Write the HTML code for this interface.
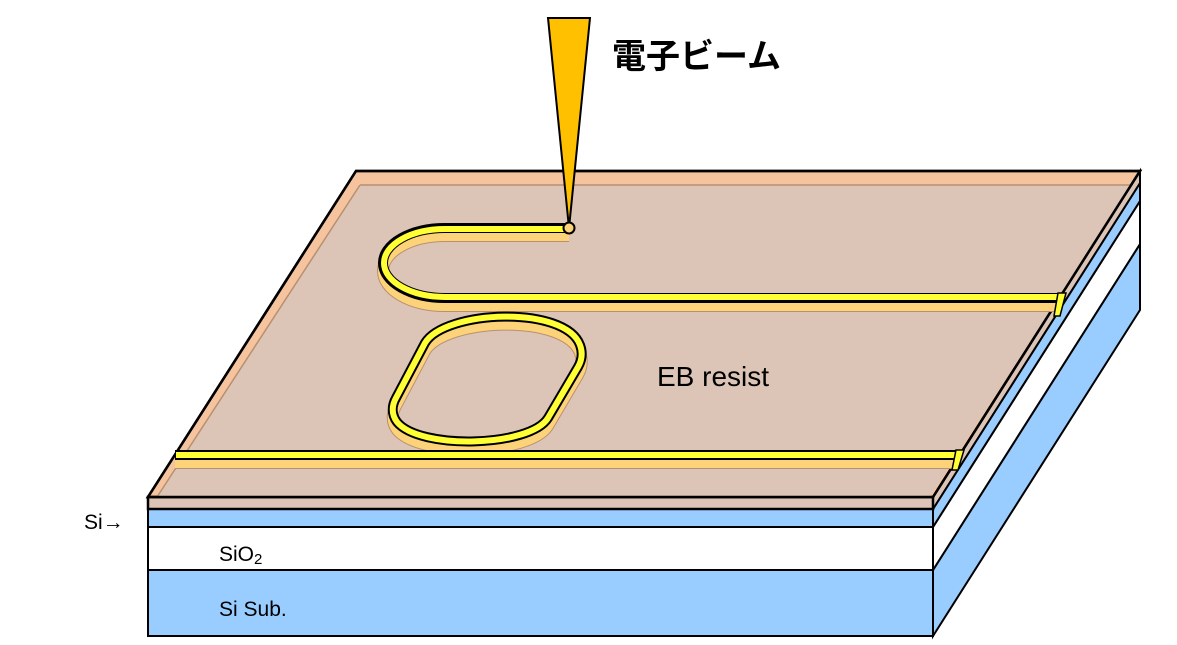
<!DOCTYPE html>
<html><head><meta charset="utf-8"><style>
html,body{margin:0;padding:0;background:#fff;}
svg{display:block;}
text{font-family:"Liberation Sans","Noto Sans CJK JP",sans-serif;}
</style></head><body>
<svg width="1177" height="645" viewBox="0 0 1177 645" xmlns="http://www.w3.org/2000/svg">
<polygon points="933,570 1140,244 1140,310 933,636" fill="#99ccff" stroke="#000" stroke-width="2"/>
<polygon points="933,527 1140,201 1140,244 933,570" fill="#fff" stroke="#000" stroke-width="2"/>
<polygon points="933,509 1140,183 1140,201 933,527" fill="#99ccff" stroke="#000" stroke-width="2"/>
<polygon points="933,497 1140,171 1140,183 933,509" fill="#dcc5b6" stroke="#000" stroke-width="2"/>
<rect x="148" y="570" width="785" height="66" fill="#99ccff" stroke="#000" stroke-width="2"/>
<rect x="148" y="527" width="785" height="43" fill="#fff" stroke="#000" stroke-width="2"/>
<rect x="148" y="509" width="785" height="18" fill="#99ccff" stroke="#000" stroke-width="2"/>
<rect x="148" y="497" width="785" height="12" fill="#dcc5b6" stroke="#000" stroke-width="2.5"/>
<polygon points="356,171 1140,171 933,497 148,497" fill="#f5c39e" stroke="#000" stroke-width="2.5"/>
<polygon points="360,185 1131,185 930,497 157,497" fill="#dcc5b6"/>
<line x1="360" y1="185" x2="1131" y2="185" stroke="#b89070" stroke-width="1.5"/>
<line x1="360" y1="185" x2="157" y2="497" stroke="#b89070" stroke-width="1.5"/>
<polygon points="356,171 1140,171 933,497 148,497" fill="none" stroke="#000" stroke-width="2.5"/>
<g fill="none" stroke="#b89070" stroke-width="12">
<path d="M569,236 L445,236 A62,35 0 0 0 445,306 L1058,306"/>
<line x1="175" y1="463" x2="958" y2="463"/>
<path transform="translate(0,8)" d="M396,398 L425,343 C445,310 565,305 580,345 C583,353 582,360 578,367 L548,418 C530,447 420,450 397,422 C391,414 392,405 396,398 Z"/>
</g>
<g fill="none" stroke="#fdd37a" stroke-width="10">
<path d="M569,236 L445,236 A62,35 0 0 0 445,306 L1058,306"/>
<line x1="175" y1="463" x2="958" y2="463"/>
<path transform="translate(0,8)" d="M396,398 L425,343 C445,310 565,305 580,345 C583,353 582,360 578,367 L548,418 C530,447 420,450 397,422 C391,414 392,405 396,398 Z"/>
</g>
<g fill="none" stroke="#000" stroke-width="10">
<path d="M569,228 L445,228 A62,35 0 0 0 445,298 L1062,298"/>
<line x1="175" y1="455" x2="960" y2="455"/>
<path d="M396,398 L425,343 C445,310 565,305 580,345 C583,353 582,360 578,367 L548,418 C530,447 420,450 397,422 C391,414 392,405 396,398 Z"/>
</g>
<g fill="none" stroke="#ffff33" stroke-width="6">
<path d="M569,229 L445,229 A61,34 0 0 0 445,297 L1060,297"/>
<line x1="176" y1="455" x2="958" y2="455"/>
<path d="M396,398 L425,343 C445,310 565,305 580,345 C583,353 582,360 578,367 L548,418 C530,447 420,450 397,422 C391,414 392,405 396,398 Z"/>
</g>
<polygon points="1058,293 1066,293 1060,316 1054,316" fill="#ffff33" stroke="#000" stroke-width="1.5"/>
<polygon points="956,450 964,450 958,470 952,470" fill="#ffff33" stroke="#000" stroke-width="1.5"/>
<polygon points="548,18 590,18 569,228" fill="#ffc000" stroke="#000" stroke-width="2"/>
<circle cx="569" cy="228" r="5.5" fill="#fdd37a" stroke="#000" stroke-width="2"/>
<text x="612" y="68" font-size="34" font-weight="bold">電子ビーム</text>
<text x="657" y="386" font-size="28">EB resist</text>
<text x="84" y="529" font-size="21">Si→</text>
<text x="219" y="561" font-size="21">SiO<tspan font-size="15" dy="3">2</tspan></text>
<text x="219" y="616" font-size="21">Si Sub.</text>
</svg>
</body></html>
